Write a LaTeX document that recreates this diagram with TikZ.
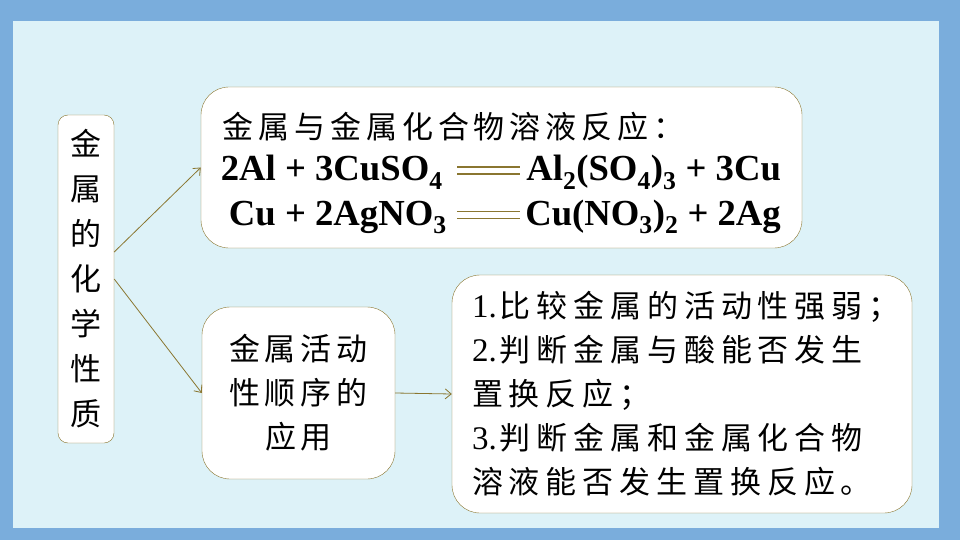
\documentclass[tikz,border=0pt]{standalone}
\usepackage{fontspec}
\setmainfont{Liberation Serif}
\newfontfamily\cjk[LetterSpace=16]{Noto Sans CJK SC}
\usetikzlibrary{arrows.meta}
\definecolor{frameblue}{HTML}{7AADDC}
\definecolor{paleblue}{HTML}{DDF2F8}
\definecolor{olive}{HTML}{8A7630}
\newcommand{\itemnum}[1]{{\rmfamily\fontsize{33}{44}\selectfont #1\kern3pt}}

\begin{document}
\begin{tikzpicture}[x=1pt, y=-1pt, semithick,
            box/.style ={rounded corners=28pt, draw=olive, fill=white, thin, inner sep=0pt},
            cn/.style ={font=\cjk\fontsize{31}{44}\selectfont},
            eq/.style ={font=\bfseries\fontsize{36.7}{36}\selectfont, inner sep=0pt},
            link/.style ={-{Straight Barb[length=6pt,width=10pt]}, draw=olive, line width=0.8pt},
            eqline/.style ={draw=olive, double=white, double distance=5.2pt, line width=1.5pt}]

        % background
        \fill[frameblue] (0,0) rectangle (960,540);
        \fill[paleblue] (13,21) rectangle (939,528);
        \useasboundingbox (0,0) rectangle (960,540);

        %\node [estilo] (nombre) at (posicion) {};
        \node[box, rounded corners=10pt, minimum width=56pt, minimum height=328pt, align=center,
              font=\cjk\fontsize{31}{45}\selectfont] (prop) at (86, 279) {金\\属\\的\\化\\学\\性\\质};
        \node[box, minimum width=601pt, minimum height=161pt] (react) at (501.5, 167.5) {};
        \node[box, cn, minimum width=193pt, minimum height=172pt, align=center] (use) at (298.5, 393)
              {金属活动\\性顺序的\\应用};
        \node[box, cn, minimum width=460pt, minimum height=238pt, text width=420pt, inner xsep=20pt,
              align=left] (apply) at (682, 394)
              {\itemnum{1.}\addfontfeature{LetterSpace=19}比较金属的活动性强弱；\\\itemnum{2.}判断金属与酸能否发生\\置换反应；\\\itemnum{3.}判断金属和金属化合物\\溶液能否发生置换反应。};

        % texto de la caja de reacciones
        \node[cn, anchor=west, inner sep=0pt] (title) at (222, 127) {金属与金属化合物溶液反应：};
        \node[eq, anchor=base east] (lhsA) at (443, 181) {2Al + 3CuSO\textsubscript{4}};
        \node[eq, anchor=base west] (rhsA) at (526, 181) {Al\textsubscript{2}(SO\textsubscript{4})\textsubscript{3} + 3Cu};
        \node[eq, anchor=base east] (lhsB) at (447, 225) {Cu + 2AgNO\textsubscript{3}};
        \node[eq, anchor=base west] (rhsB) at (525, 225) {Cu(NO\textsubscript{3})\textsubscript{2} + 2Ag};

        \draw[eqline] ([xshift=14pt,yshift=10.5pt]lhsA.base east) -- ([xshift=-6pt,yshift=10.5pt]rhsA.base west);
        \draw[eqline] ([xshift=10pt,yshift=10pt]lhsB.base east) -- ([xshift=-5pt,yshift=10pt]rhsB.base west);

        \draw[link] ([yshift=27pt]prop.east) -- (react.west);
        \draw[link] (prop.east) -- (use.west);
        \draw[link] (use.east) -- (apply.west);
    \end{tikzpicture}
\end{document}
